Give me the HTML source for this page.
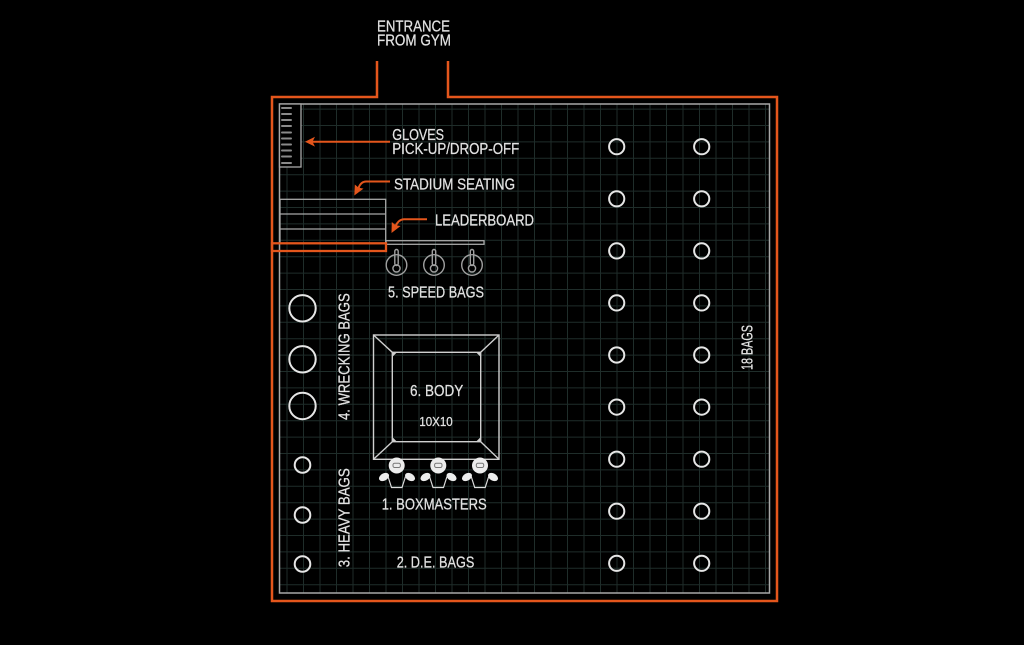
<!DOCTYPE html>
<html>
<head>
<meta charset="utf-8">
<style>
  html,body{margin:0;padding:0;background:#000;}
  svg{display:block;}
  text{font-family:"Liberation Sans", Arial, sans-serif; fill:#e2e2e2; stroke:#e2e2e2; stroke-width:0.25;}
</style>
</head>
<body>
<svg width="1024" height="645" viewBox="0 0 1024 645" xmlns="http://www.w3.org/2000/svg">
  <rect width="1024" height="645" fill="#000"/>

  <!-- grid -->
  <g stroke="#1f2d2a" stroke-width="1">
    <g id="vgrid">
      <line x1="287" y1="104" x2="287" y2="593"/>
      <line x1="303.5" y1="104" x2="303.5" y2="593"/>
      <line x1="320" y1="104" x2="320" y2="593"/>
      <line x1="336.5" y1="104" x2="336.5" y2="593"/>
      <line x1="353" y1="104" x2="353" y2="593"/>
      <line x1="369.5" y1="104" x2="369.5" y2="593"/>
      <line x1="386" y1="104" x2="386" y2="593"/>
      <line x1="402.5" y1="104" x2="402.5" y2="593"/>
      <line x1="419" y1="104" x2="419" y2="593"/>
      <line x1="435.5" y1="104" x2="435.5" y2="593"/>
      <line x1="452" y1="104" x2="452" y2="593"/>
      <line x1="468.5" y1="104" x2="468.5" y2="593"/>
      <line x1="485" y1="104" x2="485" y2="593"/>
      <line x1="501.5" y1="104" x2="501.5" y2="593"/>
      <line x1="518" y1="104" x2="518" y2="593"/>
      <line x1="534.5" y1="104" x2="534.5" y2="593"/>
      <line x1="551" y1="104" x2="551" y2="593"/>
      <line x1="567.5" y1="104" x2="567.5" y2="593"/>
      <line x1="584" y1="104" x2="584" y2="593"/>
      <line x1="600.5" y1="104" x2="600.5" y2="593"/>
      <line x1="617" y1="104" x2="617" y2="593"/>
      <line x1="633.5" y1="104" x2="633.5" y2="593"/>
      <line x1="650" y1="104" x2="650" y2="593"/>
      <line x1="666.5" y1="104" x2="666.5" y2="593"/>
      <line x1="683" y1="104" x2="683" y2="593"/>
      <line x1="699.5" y1="104" x2="699.5" y2="593"/>
      <line x1="716" y1="104" x2="716" y2="593"/>
      <line x1="732.5" y1="104" x2="732.5" y2="593"/>
      <line x1="749" y1="104" x2="749" y2="593"/>
      <line x1="765.5" y1="104" x2="765.5" y2="593"/>
    </g>
    <g id="hgrid">
      <line x1="280" y1="109.1" x2="769" y2="109.1"/>
      <line x1="280" y1="125.5" x2="769" y2="125.5"/>
      <line x1="280" y1="141.9" x2="769" y2="141.9"/>
      <line x1="280" y1="158.3" x2="769" y2="158.3"/>
      <line x1="280" y1="174.7" x2="769" y2="174.7"/>
      <line x1="280" y1="191.1" x2="769" y2="191.1"/>
      <line x1="280" y1="207.5" x2="769" y2="207.5"/>
      <line x1="280" y1="223.9" x2="769" y2="223.9"/>
      <line x1="280" y1="240.3" x2="769" y2="240.3"/>
      <line x1="280" y1="256.7" x2="769" y2="256.7"/>
      <line x1="280" y1="273.1" x2="769" y2="273.1"/>
      <line x1="280" y1="289.5" x2="769" y2="289.5"/>
      <line x1="280" y1="305.9" x2="769" y2="305.9"/>
      <line x1="280" y1="322.3" x2="769" y2="322.3"/>
      <line x1="280" y1="338.7" x2="769" y2="338.7"/>
      <line x1="280" y1="355.1" x2="769" y2="355.1"/>
      <line x1="280" y1="371.5" x2="769" y2="371.5"/>
      <line x1="280" y1="387.9" x2="769" y2="387.9"/>
      <line x1="280" y1="404.3" x2="769" y2="404.3"/>
      <line x1="280" y1="420.7" x2="769" y2="420.7"/>
      <line x1="280" y1="437.1" x2="769" y2="437.1"/>
      <line x1="280" y1="453.5" x2="769" y2="453.5"/>
      <line x1="280" y1="469.9" x2="769" y2="469.9"/>
      <line x1="280" y1="486.3" x2="769" y2="486.3"/>
      <line x1="280" y1="502.7" x2="769" y2="502.7"/>
      <line x1="280" y1="519.1" x2="769" y2="519.1"/>
      <line x1="280" y1="535.5" x2="769" y2="535.5"/>
      <line x1="280" y1="551.9" x2="769" y2="551.9"/>
      <line x1="280" y1="568.3" x2="769" y2="568.3"/>
      <line x1="280" y1="584.7" x2="769" y2="584.7"/>
    </g>
  </g>

  <!-- inner gray border -->
  <rect x="279.5" y="104" width="490" height="489" fill="none" stroke="#a8a8a8" stroke-width="1.5"/>

  <!-- orange outer wall with entrance -->
  <path d="M377,61 V97 H272 V601 H777 V97 H448 V61" fill="none" stroke="#e4561c" stroke-width="2.5"/>

  <!-- gloves box -->
  <rect x="279.5" y="104" width="21.5" height="63" fill="#000" stroke="#a8a8a8" stroke-width="1.3"/>
  <g stroke="#8a8a8a" stroke-width="2" stroke-linecap="round">
    <line x1="282" y1="108" x2="291" y2="108"/>
    <line x1="282" y1="114" x2="291" y2="114"/>
    <line x1="282" y1="120" x2="291" y2="120"/>
    <line x1="282" y1="126" x2="291" y2="126"/>
    <line x1="282" y1="132.5" x2="291" y2="132.5"/>
    <line x1="282" y1="138.5" x2="291" y2="138.5"/>
    <line x1="282" y1="144.5" x2="291" y2="144.5"/>
    <line x1="282" y1="150.5" x2="291" y2="150.5"/>
    <line x1="282" y1="156.5" x2="291" y2="156.5"/>
    <line x1="282" y1="163" x2="291" y2="163"/>
  </g>

  <!-- stadium seating -->
  <g fill="none" stroke="#a8a8a8" stroke-width="1.3">
    <rect x="280" y="199.3" width="105.7" height="44"/>
    <line x1="280" y1="214" x2="385.7" y2="214"/>
    <line x1="280" y1="229" x2="385.7" y2="229"/>
    <!-- leaderboard -->
    <rect x="386" y="240.7" width="98" height="3.6"/>
  </g>
  <rect x="272" y="243.3" width="114" height="7.7" fill="none" stroke="#e4561c" stroke-width="2.3"/>

  <!-- orange arrows -->
  <g stroke="#e4561c" stroke-width="2" fill="none">
    <line x1="390" y1="141.7" x2="311" y2="141.7"/>
    <path d="M390,181.5 H366 Q361,181.5 358.5,188"/>
    <path d="M427,219.3 H404 Q399,219.3 395.5,226"/>
  </g>
  <g fill="#e4561c">
    <polygon points="305,141.7 315,136.8 312.5,141.7 315,146.6"/>
    <polygon points="354.3,195.5 354.8,184.5 358.6,187.6 363.5,188.6"/>
    <polygon points="391.5,233 391.8,222 395.7,225.2 400.6,226"/>
  </g>

  <!-- speed bags -->
  <g fill="none" stroke="#a0a0a0" stroke-width="1.4">
    <circle cx="396.5" cy="265" r="10.3"/>
    <circle cx="396.5" cy="268.4" r="3.6"/>
    <rect x="394.8" y="249.5" width="3.4" height="16" rx="1.7"/>
    <circle cx="434" cy="265" r="10.3"/>
    <circle cx="434" cy="268.4" r="3.6"/>
    <rect x="432.3" y="249.5" width="3.4" height="16" rx="1.7"/>
    <circle cx="472" cy="265" r="10.3"/>
    <circle cx="472" cy="268.4" r="3.6"/>
    <rect x="470.3" y="249.5" width="3.4" height="16" rx="1.7"/>
  </g>

  <!-- boxing ring -->
  <g fill="none" stroke="#cfcfcf" stroke-width="1.4">
    <rect x="373.5" y="335" width="125.5" height="124.3"/>
    <rect x="392.3" y="352.3" width="88.4" height="89.4"/>
    <line x1="373.5" y1="335" x2="392.3" y2="352.3"/>
    <line x1="499" y1="335" x2="480.7" y2="352.3"/>
    <line x1="373.5" y1="459.3" x2="392.3" y2="441.7"/>
    <line x1="499" y1="459.3" x2="480.7" y2="441.7"/>
  </g>
  <g fill="#cfcfcf">
    <polygon points="392.3,352.3 397,352.3 392.3,357"/>
    <polygon points="480.7,352.3 476,352.3 480.7,357"/>
    <polygon points="392.3,441.7 397,441.7 392.3,437"/>
    <polygon points="480.7,441.7 476,441.7 480.7,437"/>
  </g>

  <!-- boxmasters -->
  <g>
    <g>
      <path d="M388,476.5 L391.5,487.5 H402 L405.5,476.5" fill="none" stroke="#dcdcdc" stroke-width="1.2"/>
      <circle cx="396.7" cy="465.5" r="8" fill="#ececec"/>
      <rect x="393" y="463.3" width="7.4" height="4.2" rx="1.6" fill="none" stroke="#777" stroke-width="1"/>
      <ellipse cx="384" cy="477" rx="5.4" ry="3.6" fill="#ececec" transform="rotate(-30 384 477)"/>
      <ellipse cx="410" cy="477" rx="5.4" ry="3.6" fill="#ececec" transform="rotate(30 410 477)"/>
    </g>
    <g>
      <path d="M429.5,476.5 L433,487.5 H443.5 L447,476.5" fill="none" stroke="#dcdcdc" stroke-width="1.2"/>
      <circle cx="438.3" cy="465.5" r="8" fill="#ececec"/>
      <rect x="434.6" y="463.3" width="7.4" height="4.2" rx="1.6" fill="none" stroke="#777" stroke-width="1"/>
      <ellipse cx="425.5" cy="477" rx="5.4" ry="3.6" fill="#ececec" transform="rotate(-30 425.5 477)"/>
      <ellipse cx="451.5" cy="477" rx="5.4" ry="3.6" fill="#ececec" transform="rotate(30 451.5 477)"/>
    </g>
    <g>
      <path d="M471.2,476.5 L474.7,487.5 H485.2 L488.7,476.5" fill="none" stroke="#dcdcdc" stroke-width="1.2"/>
      <circle cx="480" cy="465.5" r="8" fill="#ececec"/>
      <rect x="476.3" y="463.3" width="7.4" height="4.2" rx="1.6" fill="none" stroke="#777" stroke-width="1"/>
      <ellipse cx="467" cy="477" rx="5.4" ry="3.6" fill="#ececec" transform="rotate(-30 467 477)"/>
      <ellipse cx="493" cy="477" rx="5.4" ry="3.6" fill="#ececec" transform="rotate(30 493 477)"/>
    </g>
  </g>

  <!-- wrecking bags & heavy bags -->
  <g fill="none" stroke="#e6e6e6" stroke-width="2">
    <circle cx="302.5" cy="308.3" r="13.2"/>
    <circle cx="302.5" cy="359.3" r="13.2"/>
    <circle cx="302.5" cy="406" r="13.2"/>
    <circle cx="302.5" cy="465" r="7.8"/>
    <circle cx="302.5" cy="515" r="7.8"/>
    <circle cx="302.5" cy="564" r="7.8"/>
  </g>

  <!-- 18 bags -->
  <g fill="none" stroke="#e6e6e6" stroke-width="2">
    <circle cx="616.7" cy="146.7" r="7.6"/><circle cx="701.7" cy="146.7" r="7.6"/>
    <circle cx="616.7" cy="198.8" r="7.6"/><circle cx="701.7" cy="198.8" r="7.6"/>
    <circle cx="616.7" cy="250.9" r="7.6"/><circle cx="701.7" cy="250.9" r="7.6"/>
    <circle cx="616.7" cy="302.9" r="7.6"/><circle cx="701.7" cy="302.9" r="7.6"/>
    <circle cx="616.7" cy="355" r="7.6"/><circle cx="701.7" cy="355" r="7.6"/>
    <circle cx="616.7" cy="407.1" r="7.6"/><circle cx="701.7" cy="407.1" r="7.6"/>
    <circle cx="616.7" cy="459.2" r="7.6"/><circle cx="701.7" cy="459.2" r="7.6"/>
    <circle cx="616.7" cy="511.2" r="7.6"/><circle cx="701.7" cy="511.2" r="7.6"/>
    <circle cx="616.7" cy="563.3" r="7.6"/><circle cx="701.7" cy="563.3" r="7.6"/>
  </g>

  <!-- labels -->
  <g font-size="15.5">
    <text x="377" y="31.7" textLength="73" lengthAdjust="spacingAndGlyphs">ENTRANCE</text>
    <text x="377" y="45.7" textLength="74" lengthAdjust="spacingAndGlyphs">FROM GYM</text>
    <text x="392.3" y="140" textLength="51.7" lengthAdjust="spacingAndGlyphs">GLOVES</text>
    <text x="392.3" y="154" textLength="127" lengthAdjust="spacingAndGlyphs">PICK-UP/DROP-OFF</text>
    <text x="394" y="189.3" textLength="121" lengthAdjust="spacingAndGlyphs">STADIUM SEATING</text>
    <text x="435" y="225.7" textLength="99" lengthAdjust="spacingAndGlyphs">LEADERBOARD</text>
    <text x="388" y="297.7" textLength="96" lengthAdjust="spacingAndGlyphs">5. SPEED BAGS</text>
    <text x="410" y="396" textLength="53.3" lengthAdjust="spacingAndGlyphs">6. BODY</text>
    <text x="381.7" y="509.3" textLength="105" lengthAdjust="spacingAndGlyphs">1. BOXMASTERS</text>
    <text x="396.7" y="567.3" textLength="77.6" lengthAdjust="spacingAndGlyphs">2. D.E. BAGS</text>
    <text transform="translate(349.3 420) rotate(-90)" textLength="126.7" lengthAdjust="spacingAndGlyphs">4. WRECKING BAGS</text>
    <text transform="translate(349.3 567.3) rotate(-90)" textLength="99" lengthAdjust="spacingAndGlyphs">3. HEAVY BAGS</text>
    <text transform="translate(752.7 370) rotate(-90)" textLength="45" lengthAdjust="spacingAndGlyphs">18 BAGS</text>
  </g>
  <text x="419.3" y="426" font-size="13" textLength="33.4" lengthAdjust="spacingAndGlyphs">10X10</text>
</svg>
</body>
</html>
